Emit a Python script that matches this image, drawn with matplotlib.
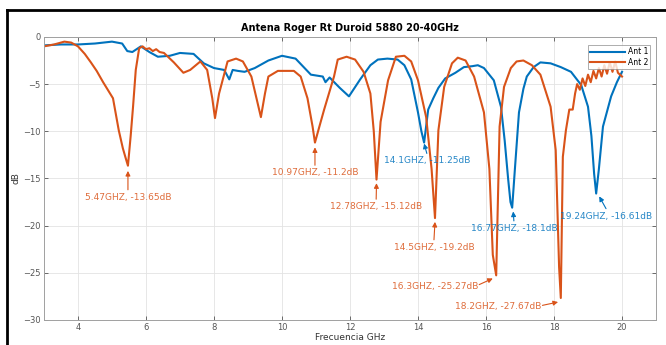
import matplotlib.pyplot as plt
from matplotlib.lines import Line2D
import numpy as np

# Ant 1 (blue)
f1 = [3.0, 3.5, 4.0, 4.5, 5.0, 5.3, 5.45, 5.6, 5.85, 6.1, 6.35, 6.7, 7.0, 7.4, 7.7, 8.0, 8.3,
      8.45, 8.55, 8.7, 8.9, 9.2, 9.6, 10.0, 10.4, 10.85, 11.2, 11.28, 11.4, 11.7, 11.97, 12.3,
      12.6, 12.82, 13.1, 13.4, 13.6, 13.8, 14.0, 14.1, 14.18, 14.3, 14.45, 14.6, 14.8, 15.1,
      15.35, 15.6, 15.76, 15.94, 16.23, 16.44, 16.55, 16.65, 16.72, 16.77, 16.85, 16.97, 17.1,
      17.2, 17.4, 17.6, 17.9, 18.2, 18.5, 18.8, 19.0, 19.1, 19.18, 19.24, 19.32, 19.44, 19.68,
      19.85, 20.0]
s1 = [-0.9, -0.8, -0.8, -0.7, -0.5, -0.7, -1.5, -1.6, -1.0, -1.6, -2.1, -2.0, -1.7, -1.8, -2.8,
      -3.3, -3.5, -4.5, -3.5, -3.6, -3.7, -3.3, -2.5, -2.0, -2.3, -4.0, -4.2, -4.8, -4.3, -5.4,
      -6.3, -4.5, -3.0, -2.4, -2.3, -2.4, -3.0, -4.5, -8.0, -10.0, -11.2, -7.7, -6.5, -5.4, -4.4,
      -3.8, -3.2, -3.1, -3.0, -3.3, -4.6, -7.4, -11.0, -15.0, -17.5, -18.1, -14.0, -8.0, -5.5,
      -4.2, -3.2, -2.7, -2.8, -3.2, -3.7, -5.1, -7.4, -10.5, -14.5, -16.6, -14.0, -9.5, -6.3,
      -4.8, -3.7]

# Ant 2 (orange)
f2 = [3.0, 3.3, 3.6, 3.8, 4.0, 4.2, 4.38, 4.55, 4.74, 5.03, 5.2, 5.32, 5.4, 5.47, 5.55, 5.62,
      5.7, 5.8, 5.9, 6.0, 6.1, 6.2, 6.3, 6.4, 6.53, 6.82, 7.1, 7.3, 7.6, 7.8, 7.95, 8.03, 8.15,
      8.4, 8.65, 8.85, 9.1, 9.25, 9.38, 9.5, 9.6, 9.88, 10.35, 10.55, 10.75, 10.9, 10.97, 11.1,
      11.24, 11.53, 11.64, 11.9, 12.15, 12.4, 12.6, 12.7, 12.78, 12.9, 13.12, 13.35, 13.6, 13.8,
      14.0, 14.24, 14.4, 14.5, 14.6, 14.77, 15.0, 15.17, 15.4, 15.65, 15.94, 16.1, 16.2, 16.3,
      16.4, 16.53, 16.73, 16.9, 17.1, 17.35, 17.6, 17.9, 18.05, 18.15, 18.2, 18.26, 18.35,
      18.45, 18.55, 18.62, 18.68, 18.76, 18.84, 18.92, 19.0, 19.08, 19.16, 19.24, 19.32, 19.4,
      19.48, 19.56, 19.64, 19.72, 19.8, 19.88, 20.0]
s2 = [-1.0, -0.8, -0.5, -0.6, -1.0, -1.8, -2.7, -3.6, -4.8, -6.5, -9.9, -11.8, -12.8, -13.65,
      -10.5, -7.4, -3.5, -1.2, -1.0, -1.3, -1.2, -1.5, -1.3, -1.6, -1.7, -2.7, -3.8, -3.5, -2.6,
      -3.5, -6.5, -8.6, -6.0, -2.6, -2.3, -2.6, -4.2, -6.5, -8.5, -6.0, -4.2, -3.6, -3.6, -4.2,
      -6.5, -9.5, -11.2, -9.5, -7.7, -4.2, -2.4, -2.1, -2.4, -3.7, -6.0, -10.0, -15.12, -9.0,
      -4.6, -2.1, -2.0, -2.6, -4.6, -8.5, -14.0, -19.2, -9.9, -5.3, -2.8, -2.2, -2.5, -4.2,
      -8.0, -14.0, -23.1, -25.27, -9.5, -5.3, -3.3, -2.6, -2.5, -3.0, -4.0, -7.4, -12.0, -24.4,
      -27.67, -12.7, -9.9, -7.7, -7.7, -6.0, -5.0, -5.6, -4.4, -5.2, -4.0, -4.8, -3.6, -4.4,
      -3.3, -4.2, -3.0, -3.9, -2.7, -3.7, -2.6, -3.8, -4.2]

# annotations: label, arrow head (x, y), text pos (x, y), colour key, text alignment
notes = [
    ('5.47GHZ, -13.65dB', (5.47, -14.2), (5.47, -17.0), 2, 'center'),
    ('10.97GHZ, -11.2dB', (10.97, -11.7), (10.97, -14.4), 2, 'center'),
    ('12.78GHZ, -15.12dB', (12.78, -15.5), (12.77, -18.0), 2, 'center'),
    ('14.1GHZ, -11.25dB', (14.18, -11.3), (14.26, -13.15), 1, 'center'),
    ('14.5GHZ, -19.2dB', (14.5, -19.6), (14.47, -22.3), 2, 'center'),
    ('16.77GHZ, -18.1dB', (16.8, -18.5), (16.82, -20.3), 1, 'center'),
    ('19.24GHZ, -16.61dB', (19.33, -16.9), (19.53, -19.0), 1, 'center'),
    ('16.3GHZ, -25.27dB', (16.2, -25.6), (15.78, -26.4), 2, 'right'),
    ('18.2GHZ, -27.67dB', (18.12, -28.1), (17.64, -28.6), 2, 'right'),
]

c1 = '#0072BD'
c2 = '#D95319'

fig = plt.figure(figsize=(6.66, 3.45), dpi=100)
ax = fig.add_axes([0.066, 0.0725, 0.919, 0.8205])

ax.plot(f1, s1, color=c1, lw=1.5, label='Ant 1')
ax.plot(f2, s2, color=c2, lw=1.5, label='Ant 2')

for txt, head, pos, k, ha in notes:
    col = c1 if k == 1 else c2
    # tail of arrow sits just above (or beside) the text
    if ha == 'center':
        tail = (pos[0], pos[1] + 0.8)
    else:
        tail = (pos[0] + 0.02, pos[1] + 0.15)
    ax.annotate('', xy=head, xytext=tail,
                arrowprops=dict(arrowstyle='-|>', color=col, lw=0.8,
                                mutation_scale=7, shrinkA=0, shrinkB=0))
    ax.text(pos[0], pos[1], txt, color=col, fontsize=6.5, ha=ha, va='center', alpha=0.85)

ax.set_xlim(3, 21)
ax.set_ylim(-30, 0)
ax.set_xticks(np.arange(4, 21, 2))
ax.set_yticks(np.arange(-30, 1, 5))
ax.grid(True, color='#e3e3e3', lw=0.6)
ax.tick_params(direction='in', top=True, right=True, labelsize=6, colors='#555555',
               length=3, width=0.6, pad=2.5)
for sp in ax.spines.values():
    sp.set_color('#a0a0a0')
    sp.set_linewidth(0.7)

ax.set_title('Antena Roger Rt Duroid 5880 20-40GHz', fontsize=7, fontweight='bold', pad=4)
ax.set_xlabel('Frecuencia GHz', fontsize=6.5, color='#333333', labelpad=0.5)
ax.set_ylabel('dB', fontsize=6.5, color='#333333', labelpad=2)

leg = ax.legend(loc='upper right', fontsize=5.5, frameon=True, fancybox=False,
                borderpad=0.3, handlelength=4.5, handletextpad=0.4, labelspacing=0.2,
                bbox_to_anchor=(0.997, 0.985))
leg.get_frame().set_edgecolor('#888888')
leg.get_frame().set_linewidth(0.6)

# outer frame of the screenshot
fig.add_artist(Line2D([0.0105, 1.0], [0.971, 0.971], transform=fig.transFigure,
                      color='black', lw=2))
fig.add_artist(Line2D([0.0105, 0.0105], [0.0, 0.971], transform=fig.transFigure,
                      color='black', lw=2))

fig.savefig('out.png', dpi=100)
